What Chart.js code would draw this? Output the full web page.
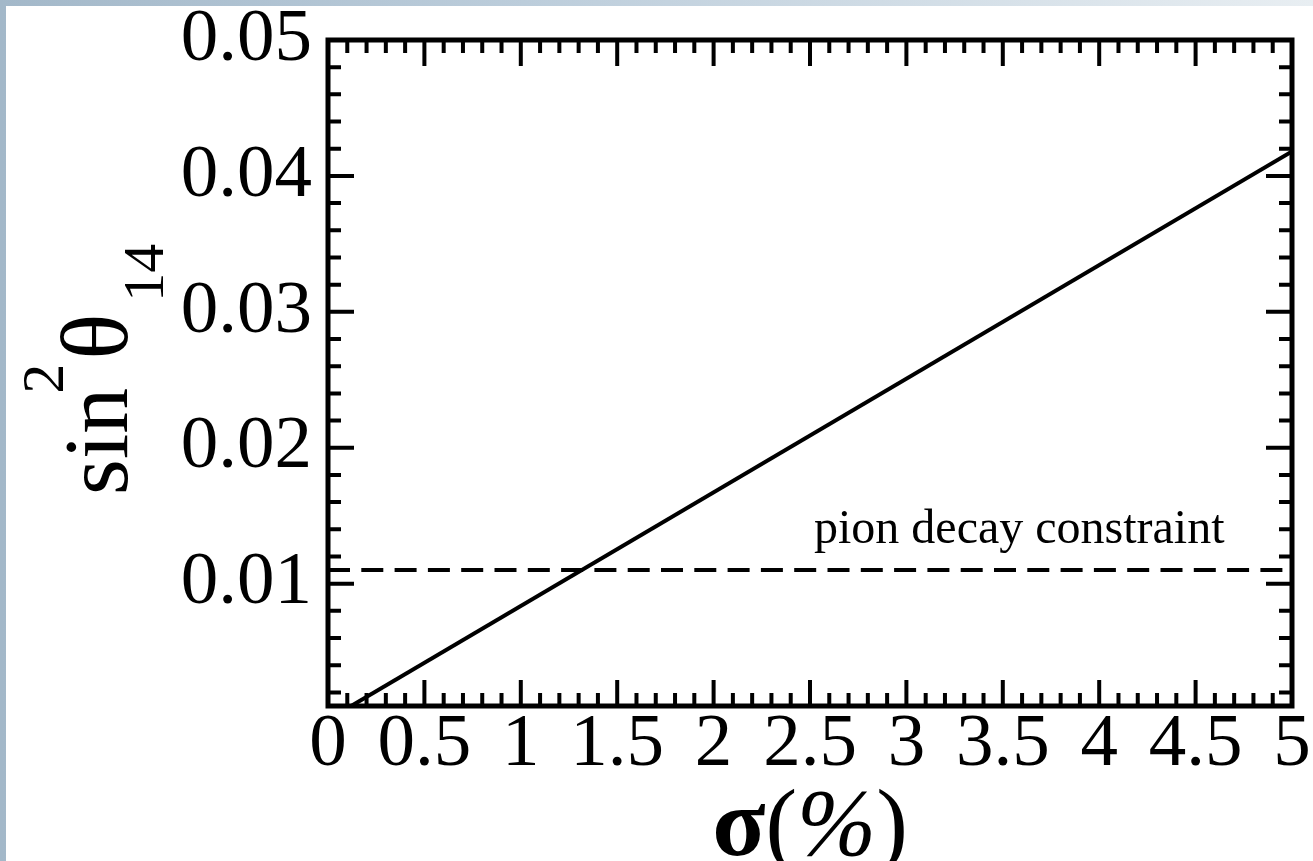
<!DOCTYPE html>
<html>
<head>
<meta charset="utf-8">
<title>sin2 theta14 vs sigma</title>
<script src="https://cdn.jsdelivr.net/npm/chart.js@4.4.1/dist/chart.umd.min.js"></script>
<style>
  html, body { margin: 0; padding: 0; width: 1313px; height: 861px; overflow: hidden; }
  body { background: linear-gradient(90deg, #a3b8c9 0%, #bccddb 40%, #e8eef2 100%); }
  #chart { position: absolute; left: 6px; top: 6px; background: #fff; }
</style>
</head>
<body>
<canvas id="chart" width="1307" height="855"></canvas>
<script>
// data
const sigma = [0.12, 5];
const sin2 = [0.001, 0.0418];
const pionLimit = 0.011;
const pionLabel = "pion decay constraint";
const pionLabelAt = [4.65, 0.013]; // right end / baseline, in data units

// axes
const xTickLabels = ["0", "0.5", "1", "1.5", "2", "2.5", "3", "3.5", "4", "4.5", "5"];
const yTickLabels = ["0.01", "0.02", "0.03", "0.04", "0.05"];
const xMin = 0, xMax = 5, xMinorStep = 0.1;
const yMin = 0.001, yMax = 0.05, yMinorStep = 0.002;

const serif = "'Liberation Serif', 'DejaVu Serif', serif";

// draws a run of text pieces along the current x direction
function drawPieces(ctx, pieces, startX, baseY) {
  let x = startX;
  pieces.forEach(p => {
    ctx.font = p.font;
    x += p.dx || 0;
    ctx.fillText(p.text, x, baseY + (p.dy || 0));
    x += ctx.measureText(p.text).width;
  });
}
function piecesWidth(ctx, pieces) {
  let w = 0;
  pieces.forEach(p => { ctx.font = p.font; w += (p.dx || 0) + ctx.measureText(p.text).width; });
  return w;
}

// frame with inward ticks on four sides + titles + annotation
const frameTicks = {
  id: "frameTicks",
  afterDatasetsDraw(chart) {
    const { ctx, chartArea: a, scales: { x, y } } = chart;
    ctx.save();
    ctx.strokeStyle = "#000";
    ctx.lineWidth = 4;
    ctx.beginPath();
    const nx = Math.round((xMax - xMin) / xMinorStep);
    for (let i = 1; i < nx; i++) {
      const px = x.getPixelForValue(xMin + i * xMinorStep);
      const len = i % 5 === 0 ? 26 : 13;
      ctx.moveTo(px, a.bottom); ctx.lineTo(px, a.bottom - len);
      ctx.moveTo(px, a.top); ctx.lineTo(px, a.top + len);
    }
    const i0 = Math.ceil(yMin / yMinorStep), i1 = Math.round(yMax / yMinorStep);
    for (let i = i0; i < i1; i++) {
      const py = y.getPixelForValue(i * yMinorStep);
      const len = i % 5 === 0 ? 26 : 13;
      ctx.moveTo(a.left, py); ctx.lineTo(a.left + len, py);
      ctx.moveTo(a.right, py); ctx.lineTo(a.right - len, py);
    }
    ctx.stroke();
    ctx.lineWidth = 5;
    ctx.lineJoin = "miter";
    ctx.strokeRect(a.left, a.top, a.width, a.height);

    ctx.fillStyle = "#000";
    ctx.textBaseline = "alphabetic";
    // annotation
    ctx.font = "48px " + serif;
    ctx.textAlign = "right";
    ctx.fillText(pionLabel, x.getPixelForValue(pionLabelAt[0]), y.getPixelForValue(pionLabelAt[1]));
    ctx.textAlign = "left";

    // x title: sigma(%)
    const xt = [
      { text: "σ", font: "bold 98px " + serif },
      { text: "(", font: "95px " + serif },
      { text: "%", font: "italic 95px " + serif },
      { text: ")", font: "95px " + serif }
    ];
    const w = piecesWidth(ctx, xt);
    drawPieces(ctx, xt, (a.left + a.right) / 2 - w / 2, 849);

    // y title: sin^2 theta_14 (rotated)
    const yt = [
      { text: "sin", font: "92px " + serif },
      { text: "2", font: "60px " + serif, dx: -6, dy: -64 },
      { text: "θ", font: "96px " + serif, dx: 4 },
      { text: "14", font: "58px " + serif, dx: 12, dy: 36 }
    ];
    ctx.translate(121, 489);
    ctx.rotate(-Math.PI / 2);
    drawPieces(ctx, yt, 0, 0);
    ctx.restore();
  }
};

new Chart(document.getElementById("chart"), {
  type: "line",
  data: {
    datasets: [
      {
        label: "sin2theta14",
        data: sigma.map((s, i) => ({ x: s, y: sin2[i] })),
        borderColor: "#000",
        borderWidth: 4,
        pointRadius: 0,
        fill: false
      },
      {
        label: pionLabel,
        data: [{ x: xMin, y: pionLimit }, { x: xMax, y: pionLimit }],
        borderColor: "#000",
        borderWidth: 4,
        borderDash: [22, 11.3],
        pointRadius: 0,
        fill: false
      }
    ]
  },
  options: {
    responsive: false,
    animation: false,
    layout: { padding: { top: 34, right: 21, left: 0, bottom: 0 } },
    plugins: { legend: { display: false }, tooltip: { enabled: false } },
    scales: {
      x: {
        type: "linear",
        min: xMin,
        max: xMax,
        grid: { display: false, drawTicks: false },
        border: { display: false },
        afterFit: s => { s.height = 155; },
        afterBuildTicks: s => { s.ticks = xTickLabels.map(t => ({ value: parseFloat(t) })); },
        ticks: {
          autoSkip: false,
          maxRotation: 0,
          padding: 0,
          color: "#000",
          font: { family: serif, size: 75, lineHeight: 1.04 },
          callback: (v, i) => xTickLabels[i]
        }
      },
      y: {
        type: "linear",
        min: yMin,
        max: yMax,
        grid: { display: false, drawTicks: false },
        border: { display: false },
        afterFit: s => { s.width = 322; },
        afterBuildTicks: s => { s.ticks = yTickLabels.map(t => ({ value: parseFloat(t) })); },
        ticks: {
          autoSkip: false,
          padding: 16,
          color: "#000",
          font: { family: serif, size: 75, lineHeight: 0.4 },
          callback: (v, i) => yTickLabels[i]
        }
      }
    }
  },
  plugins: [frameTicks]
});
</script>
</body>
</html>
